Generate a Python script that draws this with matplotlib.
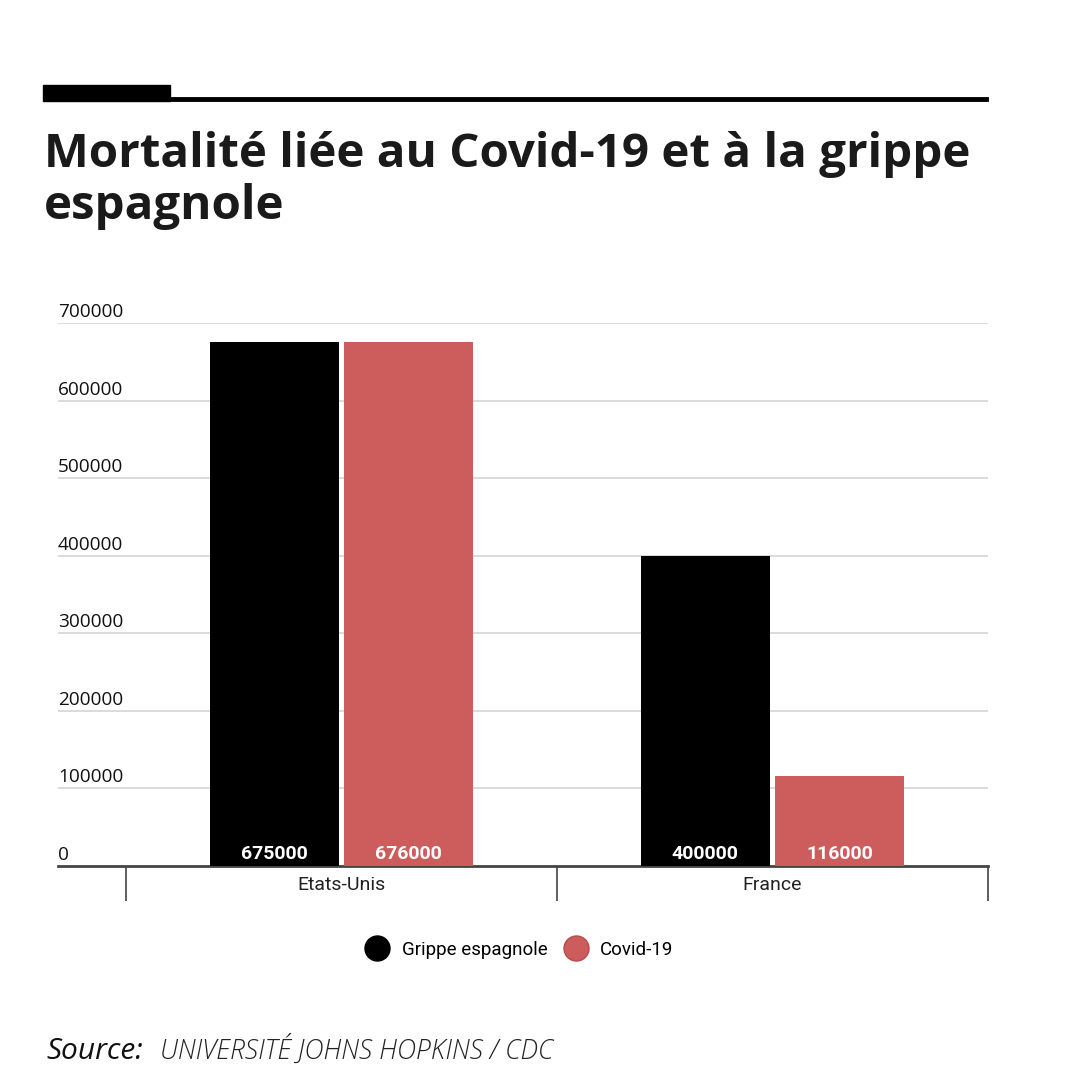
import matplotlib.pyplot as plt
import matplotlib.transforms as mtransforms
from matplotlib.lines import Line2D
from matplotlib.patches import Rectangle

# Data
countries = ['Etats-Unis', 'France']
grippe = [675000, 400000]
covid = [676000, 116000]
series_names = ['Grippe espagnole', 'Covid-19']
y_ticks = [0, 100000, 200000, 300000, 400000, 500000, 600000, 700000]

black = '#000000'
red = '#cd5c5c'

plt.rcParams['font.family'] = ['Roboto', 'DejaVu Sans']

fig = plt.figure(figsize=(10.8, 10.8), dpi=100)
ax = fig.add_axes([58 / 1080, 1 - 866 / 1080, 930 / 1080, (866 - 323) / 1080])

x = list(range(len(countries)))
w = 0.30
off = 0.156
ax.bar([i - off for i in x], grippe, width=w, color=black, zorder=3)
ax.bar([i + off for i in x], covid, width=w, color=red, zorder=3)

# value labels at the bottom of bars
for i in x:
    for val, dx in ((grippe[i], -off), (covid[i], off)):
        ax.text(i + dx, 4500, f"{val}", ha='center', va='bottom', color='white',
                fontsize=14, fontweight='bold', zorder=4)

ax.set_xlim(-0.658, 1.5)
ax.set_ylim(0, 700000)

# gridlines and y labels
trans = mtransforms.blended_transform_factory(ax.transAxes, ax.transData)
for t in y_ticks[1:]:
    ax.axhline(t, color='#d4d4d4', lw=1.2, zorder=1)
for t in y_ticks:
    ax.text(0.0, t + 2500, f"{t}", transform=trans, ha='left', va='bottom',
            fontsize=13.7, color='#111111', family=['Open Sans', 'DejaVu Sans'])
ax.set_yticks([])

for s in ['top', 'right', 'left']:
    ax.spines[s].set_visible(False)
ax.spines['bottom'].set_color('#444444')
ax.spines['bottom'].set_linewidth(2)

# category separators and labels
ax.set_xticks([-0.5, 0.5, 1.5])
ax.set_xticklabels([])
ax.tick_params(axis='x', which='major', length=25, width=1.2, color='#444444', direction='out')
ax.set_xticks(x, minor=True)
ax.set_xticklabels(countries, minor=True, fontsize=14, color='#222222')
ax.tick_params(axis='x', which='minor', length=0, pad=7)

# legend
handles = [Line2D([], [], marker='o', ls='', markersize=18, markerfacecolor=black, markeredgecolor=black),
           Line2D([], [], marker='o', ls='', markersize=18, markerfacecolor=red, markeredgecolor='#b84a4a')]
fig.legend(handles, series_names, loc='center', bbox_to_anchor=(516 / 1080, 1 - 950 / 1080),
           ncol=2, frameon=False, fontsize=13.5, handletextpad=0.3, columnspacing=0.5)

# top decoration
fig.add_artist(Rectangle((43 / 1080, 1 - 101 / 1080), 127 / 1080, 16 / 1080,
                         transform=fig.transFigure, color='black'))
fig.add_artist(Line2D([170 / 1080, 986 / 1080], [1 - 99 / 1080, 1 - 99 / 1080],
                      transform=fig.transFigure, color='black', lw=3.5))

# title
title_font = ['Open Sans', 'DejaVu Sans']
fig.text(44 / 1080, 1 - 167 / 1080, "Mortalité liée au Covid-19 et à la grippe",
         ha='left', va='baseline', fontsize=34.2, fontweight='bold', family=title_font,
         color='#1a1a1a')
fig.text(44 / 1080, 1 - 219 / 1080, "espagnole",
         ha='left', va='baseline', fontsize=34.2, fontweight='bold', family=title_font,
         color='#1a1a1a')

# source
fig.text(46 / 1080, 1 - 1059 / 1080, "Source:", ha='left', va='baseline', fontsize=21.5,
         style='italic', family=['Open Sans', 'DejaVu Sans'], color='#111111')
fig.text(160 / 1080, 1 - 1059 / 1080, "UNIVERSITÉ JOHNS HOPKINS / CDC", ha='left', va='baseline',
         fontsize=19.2, style='italic', fontweight='light', family=['Open Sans', 'DejaVu Sans'],
         color='#222222')

fig.savefig('out.png', dpi=100)
